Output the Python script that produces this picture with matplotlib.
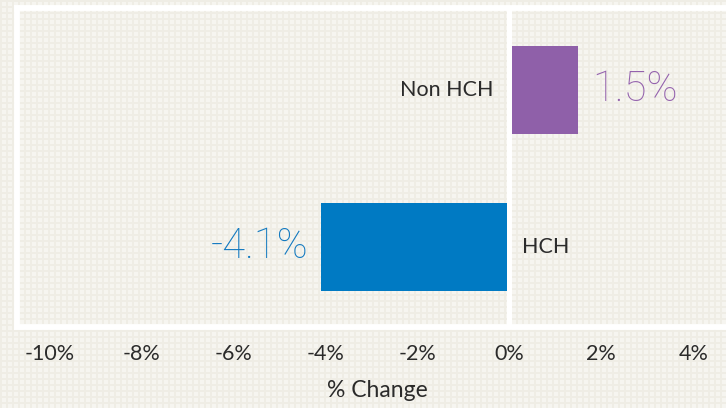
import numpy as np
import matplotlib.pyplot as plt
from matplotlib.transforms import offset_copy

# --- data ---
categories = ["HCH", "Non HCH"]
pct_change = [-4.1, 1.5]
bar_colors = ["#007ac3", "#8f60a9"]
label_colors = ["#1279c0", "#9462ad"]
xticks = [-10, -8, -6, -4, -2, 0, 2, 4]
xtick_labels = ["-10%", "-8%", "-6%", "-4%", "-2%", "0%", "2%", "4%"]

plt.rcParams["font.family"] = ["Lato", "DejaVu Sans"]

W, H = 726, 408
fig = plt.figure(figsize=(W / 100, H / 100), dpi=100)

# beige background with a fine square grid texture
tex = np.empty((H, W, 3))
tex[:] = np.array([0xf6, 0xf5, 0xf0]) / 255
line = np.array([0xef, 0xed, 0xe5]) / 255
yy, xx = np.mgrid[0:H, 0:W]
mask = (yy % 6 < 2) | (xx % 6 < 2)
tex[mask] = line
fig.figimage(tex, xo=0, yo=0, zorder=-10)

ax = fig.add_axes([17 / W, 1 - 327 / H, 720 / W, 319.5 / H])
ax.set_facecolor("none")
ax.set_zorder(1)

y = np.arange(len(categories))
ax.barh(y, pct_change, height=0.56, color=bar_colors, zorder=2)
ax.axvline(0, color="white", lw=3.6, zorder=3)

ax.set_xlim(-10.7, 4.95)
ax.set_ylim(-0.511, 1.522)
ax.set_xticks(xticks)
ax.set_xticklabels(xtick_labels)
ax.set_yticks([])
ax.tick_params(axis="x", length=0, pad=12.5, labelsize=15.5, labelcolor="#2b2b2b")
ax.set_xlabel("% Change", fontsize=16.5, color="#2b2b2b", labelpad=11)

for side in ["left", "top", "bottom"]:
    ax.spines[side].set_color("white")
    ax.spines[side].set_linewidth(4.2)
ax.spines["right"].set_visible(False)

for yi, v, name, lc in zip(y, pct_change, categories, label_colors):
    if v >= 0:
        # category label on the left of zero, value to the right of the bar
        t = offset_copy(ax.transData, fig=fig, x=-16, y=0, units="dots")
        ax.text(0, yi, name, transform=t, ha="right", va="center",
                fontsize=15.5, color="#2b2b2b")
        t = offset_copy(ax.transData, fig=fig, x=14, y=0, units="dots")
        ax.text(v, yi, f"{v:.1f}%", transform=t, ha="left", va="center",
                fontsize=30, color=lc, family=["Roboto", "Lato"], fontweight="light")
    else:
        t = offset_copy(ax.transData, fig=fig, x=13, y=0, units="dots")
        ax.text(0, yi, name, transform=t, ha="left", va="center",
                fontsize=15.5, color="#2b2b2b")
        t = offset_copy(ax.transData, fig=fig, x=-12, y=0, units="dots")
        ax.text(v, yi, f"{v:.1f}%", transform=t, ha="right", va="center",
                fontsize=30, color=lc, family=["Roboto", "Lato"], fontweight="light")

fig.savefig("out.png", dpi=100)
